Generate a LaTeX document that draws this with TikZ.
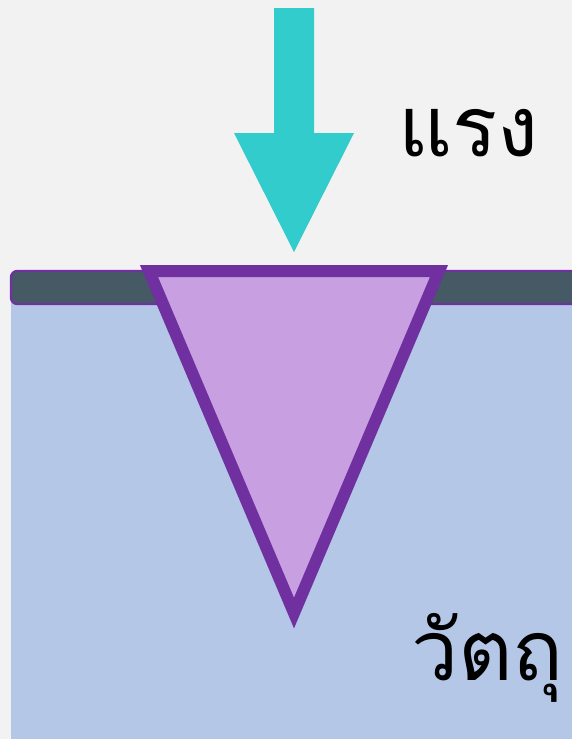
\documentclass[tikz,border=0pt]{standalone}
\usepackage{fontspec}
\newfontfamily\thaifont[Script=Thai]{Loma}
\definecolor{bgc}{HTML}{F2F2F2}
\definecolor{bluec}{HTML}{B4C7E7}
\definecolor{barc}{HTML}{455A64}
\definecolor{purp}{HTML}{7030A0}
\definecolor{lilac}{HTML}{C8A0E2}
\definecolor{arrc}{HTML}{33CCCC}
\begin{document}
\begin{tikzpicture}[x=1pt,y=-1pt,
  lbl/.style={font=\thaifont\fontsize{84}{100}\selectfont, inner sep=0pt, anchor=base west, text=black}]
\useasboundingbox (0,0) rectangle (572,739);
\clip (0,0) rectangle (572,739);
\fill[bgc] (0,0) rectangle (572,739);
\fill[bluec] (11,290) rectangle (600,760);
\draw[purp, line width=2.2pt, fill=barc, rounded corners=6pt] (11,271) rectangle (600,304);
\draw[purp, fill=lilac, line width=12pt, line join=miter] (149,271) -- (439,271) -- (294,613) -- cycle;
\fill[arrc] (274,8) -- (314,8) -- (314,133) -- (354,133) -- (294,252) -- (234,133) -- (274,133) -- cycle;
\node[lbl] (force) at (398,156) {แรง};
\node[lbl] (object) at (411,680) {วัตถุ};
\end{tikzpicture}
\end{document}
